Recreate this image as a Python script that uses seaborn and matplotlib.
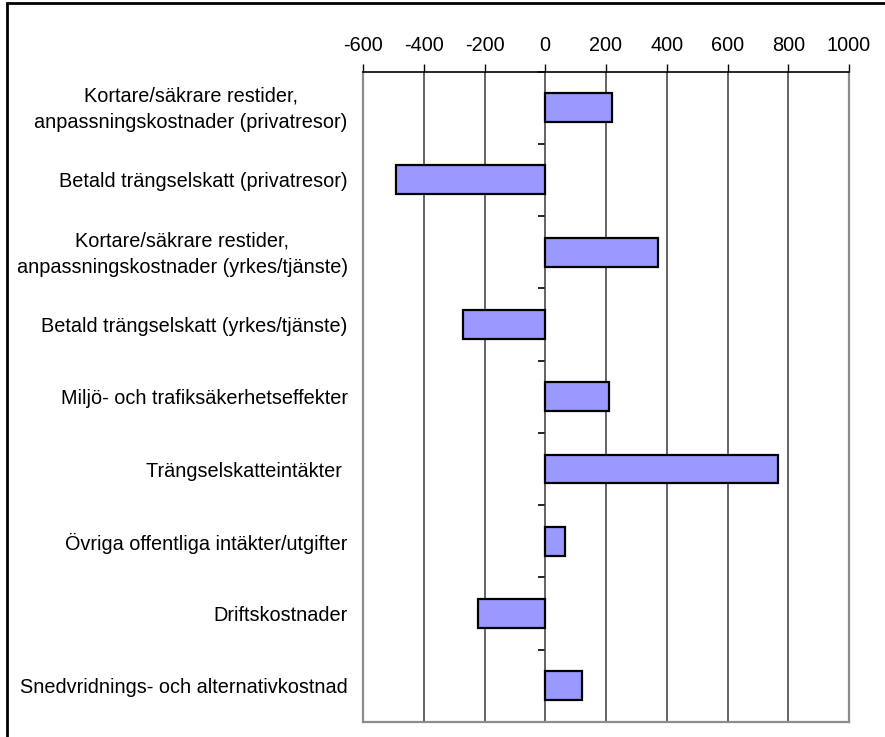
import matplotlib
matplotlib.use("Agg")
import matplotlib.pyplot as plt
import matplotlib.transforms as mtransforms
import seaborn as sns
import pandas as pd
from matplotlib.patches import Rectangle

categories = [
    "Kortare/säkrare restider,\nanpassningskostnader (privatresor)",
    "Betald trängselskatt (privatresor)",
    "Kortare/säkrare restider,\nanpassningskostnader (yrkes/tjänste)",
    "Betald trängselskatt (yrkes/tjänste)",
    "Miljö- och trafiksäkerhetseffekter",
    "Trängselskatteintäkter ",
    "Övriga offentliga intäkter/utgifter",
    "Driftskostnader",
    "Snedvridnings- och alternativkostnad",
]
values = [220, -490, 370, -270, 210, 765, 65, -220, 120]
x_ticks = [-600, -400, -200, 0, 200, 400, 600, 800, 1000]

df = pd.DataFrame({"kategori": categories, "värde": values})

sns.set_theme(style="white")
plt.rcParams["font.family"] = ["Liberation Sans", "DejaVu Sans"]

fig = plt.figure(figsize=(8.85, 7.37), dpi=100)
ax = fig.add_axes([363 / 885, 1 - 722 / 737, (849 - 363) / 885, (722 - 71.5) / 737])

# vertical grid behind the bars
ax.set_axisbelow(True)
ax.grid(axis="x", color="#3a3a3a", linewidth=1.1)
ax.grid(axis="y", visible=False)

sns.barplot(data=df, x="värde", y="kategori", orient="h", color="#9999FF",
            saturation=1, edgecolor="black", linewidth=1.6, width=0.4, ax=ax)

ax.set_xlim(-600, 1000)
ax.set_ylim(len(categories) - 0.5, -0.5)
ax.set_xticks(x_ticks)
ax.set_xticklabels([str(t) for t in x_ticks])
ax.xaxis.tick_top()
ax.tick_params(axis="x", which="major", direction="out", length=6, width=1,
               color="black", pad=6, labelsize=14.3, labelcolor="black")
ax.tick_params(axis="y", length=0, pad=11, labelsize=14.3, labelcolor="black")
lift = mtransforms.ScaledTranslation(0, 3 / 72, fig.dpi_scale_trans)
for lbl in ax.get_yticklabels():
    lbl.set_multialignment("center")
    lbl.set_linespacing(1.5)
    if "\n" in lbl.get_text():
        lbl.set_transform(lbl.get_transform() + lift)
ax.set_xlabel("")
ax.set_ylabel("")

for side in ("left", "right", "bottom"):
    ax.spines[side].set_visible(True)
    ax.spines[side].set_color("#8c8c8c")
    ax.spines[side].set_linewidth(1.6)
ax.spines["top"].set_visible(True)
ax.spines["top"].set_color("black")
ax.spines["top"].set_linewidth(1.2)

# category boundary ticks on the zero line
zero_frac = (0 - x_ticks[0]) / (x_ticks[-1] - x_ticks[0])
sec = ax.secondary_yaxis(zero_frac)
sec.set_yticks([i - 0.5 for i in range(len(categories) + 1)])
sec.set_yticklabels([])
sec.tick_params(axis="y", direction="out", length=5, width=1.2, color="black")
for s in sec.spines.values():
    s.set_visible(False)

# outer frame of the figure
fig.patches.append(Rectangle((7 / 885, -0.05), 1.2, 1 - 3 / 737 + 0.05,
                             transform=fig.transFigure, fill=False,
                             edgecolor="black", linewidth=2, zorder=10))

fig.savefig("out.png", dpi=100, facecolor="white")
